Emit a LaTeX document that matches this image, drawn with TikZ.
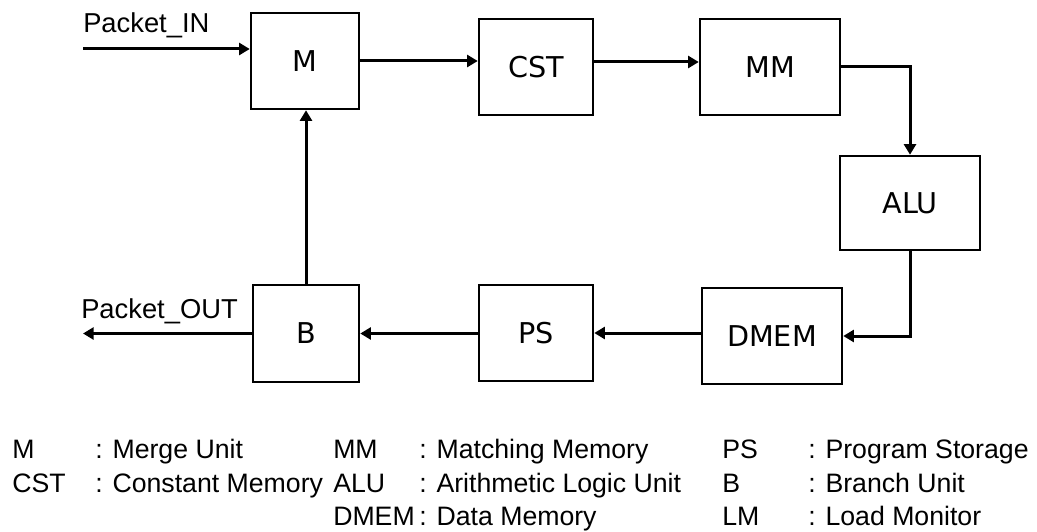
\documentclass[tikz,border=0pt]{standalone}
\usepackage{fontspec}
\setmainfont{Liberation Sans}
\newfontfamily\boxfont{DejaVu Sans}
\usetikzlibrary{arrows.meta}
\tikzset{
  unit/.style={draw, line width=1.9pt, inner sep=0pt, font=\boxfont\fontsize{21.5}{24}\selectfont},
  arr/.style={line width=2.25pt, -{Triangle[length=8pt,width=9pt]}},
  lbl/.style={anchor=base west, inner sep=0pt, font=\fontsize{20.5}{24}\selectfont},
  leg/.style={anchor=base west, inner sep=0pt, font=\fontsize{20}{23}\selectfont},
}
\begin{document}
\begin{tikzpicture}[x=0.75pt, y=-0.75pt]
\useasboundingbox (0,0) rectangle (1037,531);
% units
\node[unit, minimum width=81pt, minimum height=72pt] (M) at (305,61) {M};
\node[unit, minimum width=85.5pt, minimum height=72pt] (CST) at (536,67) {CST};
\node[unit, minimum width=105pt, minimum height=72pt] (MM) at (770,67) {MM};
\node[unit, minimum width=105pt, minimum height=70.5pt] (ALU) at (910,203) {ALU};
\node[unit, minimum width=105pt, minimum height=72pt] (DMEM) at (772,336) {DMEM};
\node[unit, minimum width=85.5pt, minimum height=72pt] (PS) at (536,333) {PS};
\node[unit, minimum width=79.5pt, minimum height=72.75pt] (B) at (306,333.5) {B};
% free ends
\coordinate (pin) at (83,49);
\coordinate (pout) at (83,333.5);
% labels
\node[lbl] (lin) at (83,33) {Packet\_IN};
\node[lbl] (lout) at (81,318) {Packet\_OUT};
% connectors
\draw[arr] (pin) -- (pin -| M.west);
\draw[arr] (M.east) -- (M.east -| CST.west);
\draw[arr] ([yshift=3.75pt]CST.east) -- ([yshift=3.75pt]CST.east -| MM.west);
\draw[arr] (MM.east) -| (ALU.north);
\draw[arr] (ALU.south) |- (DMEM.east);
\draw[arr] (DMEM.west |- PS.east) -- (PS.east);
\draw[arr] (PS.west |- B.east) -- (B.east);
\draw[arr] (B.west) -- (pout);
\draw[arr] (B.north) -- (B.north |- M.south);
% legend
\node[leg] (k1) at (12,458) {M};
\node[leg] (d1) at (95,458) {: Merge Unit};
\node[leg] (k2) at (12,492) {CST};
\node[leg] (d2) at (95,492) {: Constant Memory};
\node[leg] (k3) at (333,458) {MM};
\node[leg] (d3) at (419,458) {: Matching Memory};
\node[leg] (k4) at (333,492) {ALU};
\node[leg] (d4) at (419,492) {: Arithmetic Logic Unit};
\node[leg] (k5) at (333,525) {DMEM};
\node[leg] (d5) at (419,525) {: Data Memory};
\node[leg] (k6) at (722,458) {PS};
\node[leg] (d6) at (808,458) {: Program Storage};
\node[leg] (k7) at (722,492) {B};
\node[leg] (d7) at (808,492) {: Branch Unit};
\node[leg] (k8) at (722,525) {LM};
\node[leg] (d8) at (808,525) {: Load Monitor};
\end{tikzpicture}
\end{document}
